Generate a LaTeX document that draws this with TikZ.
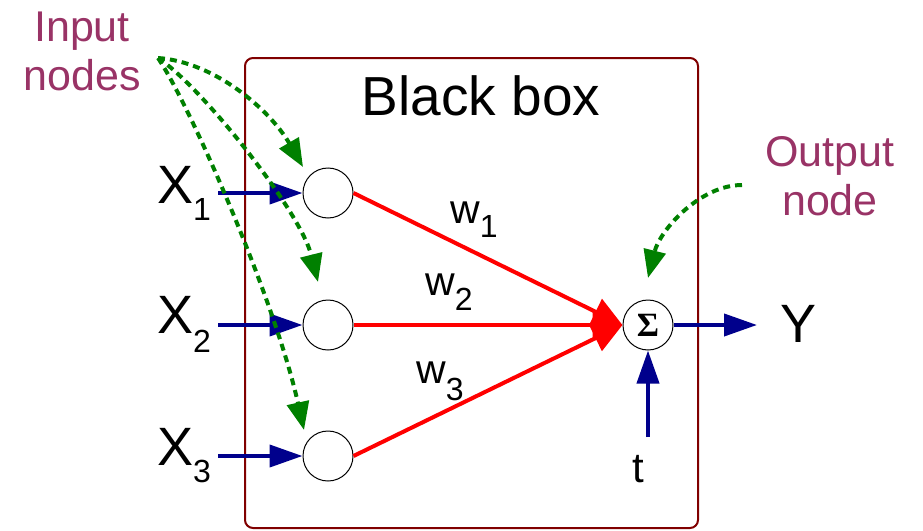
\documentclass[tikz,border=0pt]{standalone}
\usepackage{fontspec}
\setmainfont{Liberation Sans}
\newfontfamily\sigmafont{Liberation Serif}
\usetikzlibrary{arrows.meta}
\definecolor{boxred}{RGB}{128,0,0}
\definecolor{navyb}{RGB}{0,0,140}
\definecolor{greend}{RGB}{0,128,0}
\definecolor{purp}{RGB}{153,51,102}
\definecolor{redl}{RGB}{255,0,0}
\tikzset{
  neuron/.style={circle,draw=black,fill=white,line width=1pt,minimum size=50pt,inner sep=0pt},
  inarrow/.style={draw=navyb,line width=4pt,-{Triangle[length=33pt,width=22pt]}},
  weight/.style={draw=redl,line width=4pt,-{Triangle[length=30pt,width=28pt]}},
  pointer/.style={draw=greend,line width=4pt,dash pattern=on 7pt off 5pt,-{Triangle[length=28pt,width=22pt]}},
  lbl/.style={inner sep=0pt,anchor=base west},
  note/.style={inner sep=0pt,text=purp,align=center,font=\fontsize{43}{49}\selectfont},
}
\newcommand{\bigtxt}[1]{{\fontsize{54}{54}\selectfont #1}}
\newcommand{\subtxt}[2]{\raisebox{-#1pt}{\fontsize{32}{32}\selectfont #2}}
\begin{document}
\begin{tikzpicture}[x=1pt,y=-1pt]
\useasboundingbox (0,0) rectangle (923,530);
% black box
\draw[boxred,line width=2pt,rounded corners=8pt] (245,58) rectangle (698,528);
\node[inner sep=0pt,anchor=base] (title) at (481,115) {\fontsize{55}{55}\selectfont Black box};
% neurons
\node[neuron] (in1) at (328,193) {};
\node[neuron] (in2) at (328,325) {};
\node[neuron] (in3) at (328,456) {};
\node[neuron] (sum) at (648,325) {\fontsize{34}{34}\selectfont\sigmafont\bfseries Σ};
% weights
\draw[weight] (in1.east) -- (sum.west);
\draw[weight] (in2.east) -- (sum.west);
\draw[weight] (in3.east) -- (sum.west);
\node[lbl] (w1) at (450,223) {{\fontsize{41}{41}\selectfont w}\subtxt{14}{1}};
\node[lbl] (w2) at (425,295) {{\fontsize{41}{41}\selectfont w}\subtxt{15}{2}};
\node[lbl] (w3) at (416,383) {{\fontsize{41}{41}\selectfont w}\subtxt{17}{3}};
% inputs
\node[lbl] (x1) at (157,203) {\bigtxt{X}\subtxt{17}{1}};
\node[lbl] (x2) at (157,333) {\bigtxt{X}\subtxt{19}{2}};
\node[lbl] (x3) at (157,465) {\bigtxt{X}\subtxt{17}{3}};
\coordinate (s1) at (218,193);
\coordinate (s2) at (218,325);
\coordinate (s3) at (218,456);
\draw[inarrow] (s1) -- (in1.west);
\draw[inarrow] (s2) -- (in2.west);
\draw[inarrow] (s3) -- (in3.west);
% output
\coordinate (yend) at (757,325);
\draw[inarrow] (sum.east) -- (yend);
\node[lbl] (y) at (780,342) {\bigtxt{Y}};
\coordinate (tstart) at (648,437);
\draw[inarrow] (tstart) -- (sum.south);
\node[lbl] (t) at (632,482) {\fontsize{42}{42}\selectfont t};
% notes
\node[note,anchor=north] (innote) at (82,12) {Input\\nodes};
\node[note,anchor=north] (outnote) at (830,136) {Output\\node};
\coordinate (p0) at (158,58);
\coordinate (tip1) at (303,167);
\coordinate (tip2) at (318,282);
\coordinate (tip3) at (304,430);
\draw[pointer] (p0) .. controls (215,62) and (270,110) .. (tip1);
\draw[pointer] (p0) .. controls (200,85) and (300,210) .. (tip2);
\draw[pointer] (p0) .. controls (190,105) and (275,300) .. (tip3);
\coordinate (q0) at (742,185);
\coordinate (tip4) at (648,278);
\draw[pointer] (q0) .. controls (700,185) and (660,230) .. (tip4);
\end{tikzpicture}
\end{document}
